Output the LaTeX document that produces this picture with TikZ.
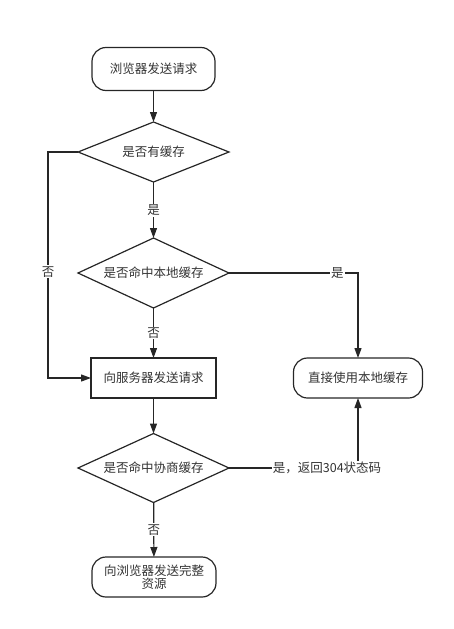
\documentclass[tikz,border=0pt]{standalone}
\usepackage{fontspec}
\setmainfont{Noto Sans CJK SC}
\usetikzlibrary{shapes.geometric,arrows.meta}

\begin{document}
\begin{tikzpicture}[x=1pt, y=-1pt, line width=1.2pt, draw=black!85,
        every node/.style={outer sep=0pt, text=black!80, font=\fontsize{12.5}{15}\selectfont},
        term/.style={draw, rounded corners=14pt, minimum width=123pt, minimum height=43pt},
        proc/.style={draw, minimum width=125pt, minimum height=40pt},
        decision/.style={diamond, aspect=2.5, draw, inner sep=0pt, minimum width=151pt, minimum height=#1},
        flow/.style={-{Triangle[length=10pt,width=7pt]}},
        lbl/.style={fill=white, inner sep=1pt}]
        \useasboundingbox (0,0) rectangle (454,629);
        \node (start) [term] at (153.5,69) {浏览器发送请求};
        \node (hasCache) [decision=60pt] at (153.5,152) {是否有缓存};
        \node (hitLocal) [decision=70pt] at (153.5,273) {是否命中本地缓存};
        \node (sendReq) [proc] at (153.5,378) {向服务器发送请求};
        \node (hitNego) [decision=69pt] at (153.5,468) {是否命中协商缓存};
        \node (sendFull) [term, minimum width=124pt, minimum height=40pt, align=center] at (154,577) {向浏览器发送完整\\[-2pt]资源};
        \node (useLocal) [term, minimum width=129pt, minimum height=40pt] at (358,378) {直接使用本地缓存};
      %connectors
        \draw [flow] (start) -- (hasCache);
        \draw [flow] (hasCache) -- (hitLocal) node [lbl, midway] {是};
        \draw [flow] (hasCache.west) -- ++(-30,0) |- (sendReq.west) node [lbl, pos=0.265] {否};
        \draw [flow] (hitLocal) -- (sendReq) node [lbl, midway] {否};
        \draw [flow] (hitLocal.east) -| (useLocal.north) node [lbl, pos=0.42] {是};
        \draw [flow] (sendReq) -- (hitNego);
        \draw [flow] (hitNego) -- (sendFull) node [lbl, midway] {否};
        \draw [flow] (hitNego.east) -| (useLocal.south) node [lbl, pos=0.38] {是，返回304状态码};
    \end{tikzpicture}
\end{document}
